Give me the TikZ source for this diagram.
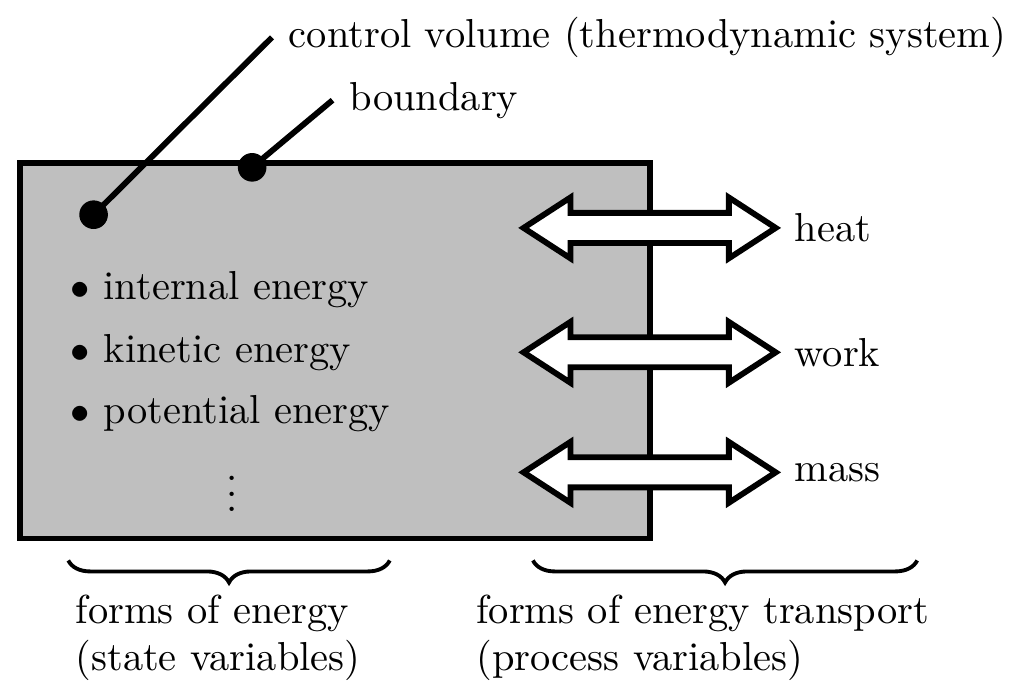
\documentclass[tikz,border=0pt]{standalone}
\usepackage{amsmath,amssymb}
\usetikzlibrary{shapes.arrows,positioning,decorations.pathreplacing}

\begin{document}
\begin{tikzpicture}[
  font=\fontsize{10.45pt}{12pt}\selectfont,
  wall/.style={draw, line width=1.5pt, fill=black!25, inner sep=0pt},
  flow/.style={double arrow, draw, fill=white, line width=1.5pt, inner xsep=0pt, inner ysep=0.11cm, minimum height=2.29cm, double arrow head extend=0.14cm, double arrow tip angle=66},
  dot/.style={circle, fill=black, inner sep=0pt, minimum size=0.26cm},
  pointer/.style={line width=1.5pt},
  brace/.style={decorate, decoration={brace, mirror, amplitude=0.2cm}, line width=1pt},
  label/.style={align=left, inner sep=0pt}
]
\useasboundingbox (0,0) rectangle (9.3,6.33);
% Control volume with its boundary
\node[wall, minimum width=5.72cm, minimum height=3.41cm] (cv) at (3.04,3.145) {};
% Pointer to the control volume
\node[dot] (cvdot) at (0.85,4.38) {};
\coordinate (cvend) at (2.47,5.99);
\draw[pointer] (cvdot.center) -- (cvend);
\node[right=0.03cm of cvend] (cvlabel) {control volume (thermodynamic system)};
% Pointer to the boundary
\node[dot] (bddot) at (2.29,4.81) {};
\coordinate (bdend) at (3.02,5.42);
\draw[pointer] (bddot.center) -- (bdend);
\node[right=0.03cm of bdend] (bdlabel) {boundary};
% Forms of energy inside the system
\node[anchor=base west] (internal) at (0.52,3.61) {$\bullet$ internal energy};
\node[anchor=base west] (kinetic) at (0.52,3.04) {$\bullet$ kinetic energy};
\node[anchor=base west] (potential) at (0.52,2.48) {$\bullet$ potential energy};
\node (more) at (2.11,1.95) {$\vdots$};
% Energy transport across the boundary
\node[flow] (heat) at (5.9,4.26) {};
\node[right=0cm of heat] (heatlabel) {heat};
\node[flow] (work) at (5.9,3.13) {};
\node[right=0cm of work] (worklabel) {work};
\node[flow] (mass) at (5.9,2.04) {};
\node[right=0cm of mass] (masslabel) {mass};
% Braces and captions
\draw[brace] (0.62,1.24) -- (3.54,1.24);
\node[label, anchor=north west] (state) at (0.68,0.93) {forms of energy\\(state variables)};
\draw[brace] (4.84,1.24) -- (8.33,1.24);
\node[label, anchor=north west] (process) at (4.32,0.93) {forms of energy transport\\(process variables)};
\end{tikzpicture}
\end{document}
